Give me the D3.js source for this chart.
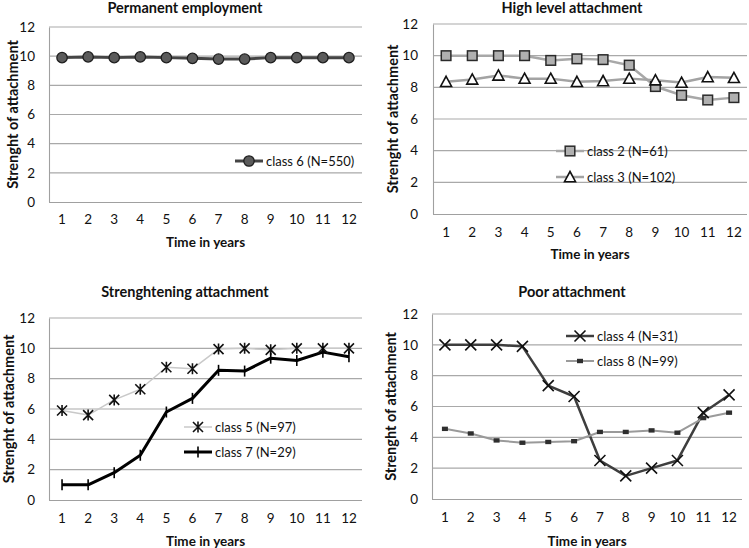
<!DOCTYPE html>
<html><head><meta charset="utf-8">
<script src="https://cdn.jsdelivr.net/npm/d3@7"></script>
<style>
body{margin:0;background:#fff;}
text{font-family:Lato,"Open Sans",sans-serif;fill:#111;}
</style></head>
<body>
<svg id="chart" width="749" height="548"></svg>
<script>
const years = [1,2,3,4,5,6,7,8,9,10,11,12];
const yTicks = [0,2,4,6,8,10,12];

const class6 = [9.9,9.95,9.9,9.95,9.9,9.85,9.8,9.8,9.9,9.9,9.9,9.9];
const class2 = [10,10,10,10,9.7,9.8,9.75,9.4,8.05,7.5,7.2,7.35];
const class3 = [8.35,8.5,8.75,8.55,8.55,8.35,8.4,8.55,8.45,8.3,8.65,8.6];
const class5 = [5.9,5.6,6.6,7.3,8.75,8.65,9.95,10,9.9,10,10,10];
const class7 = [1,1,1.8,2.95,5.8,6.7,8.55,8.5,9.35,9.2,9.75,9.45];
const class4 = [10,10,10,9.9,7.35,6.65,2.5,1.5,2,2.5,5.6,6.75];
const class8 = [4.55,4.25,3.8,3.65,3.7,3.75,4.35,4.35,4.45,4.3,5.25,5.6];

const titles = ["Permanent employment","High level attachment","Strenghtening attachment","Poor attachment"];
const labels = {c6:"class 6 (N=550)",c2:"class 2 (N=61)",c3:"class 3 (N=102)",c5:"class 5 (N=97)",c7:"class 7 (N=29)",c4:"class 4 (N=31)",c8:"class 8 (N=99)"};
const xTitle = "Time in years";
const yTitle = "Strenght of attachment";

const svg = d3.select("#chart");

// marker drawers
function drawMarker(g, type, x, y){
  if(type==="circle"){
    g.append("circle").attr("cx",x).attr("cy",y).attr("r",5.2).attr("fill","#5b5b5b").attr("stroke","#1e1e1e").attr("stroke-width",1.3);
  } else if(type==="square"){
    g.append("rect").attr("x",x-4.8).attr("y",y-4.8).attr("width",9.6).attr("height",9.6).attr("fill","#b0b0b0").attr("stroke","#2a2a2a").attr("stroke-width",1.5);
  } else if(type==="triangle"){
    const s=5.5;
    g.append("path").attr("d",`M${x},${y-s}L${x+s},${y+s*0.85}L${x-s},${y+s*0.85}Z`).attr("fill","#fff").attr("stroke","#111").attr("stroke-width",1.6);
  } else if(type==="asterisk"){
    const s=5;
    g.append("path").attr("d",`M${x-s},${y-s}L${x+s},${y+s}M${x-s},${y+s}L${x+s},${y-s}M${x},${y-s-0.5}L${x},${y+s+0.5}`).attr("stroke","#111").attr("stroke-width",1.6).attr("fill","none");
  } else if(type==="plus"){
    const s=5.5;
    g.append("path").attr("d",`M${x},${y-s}L${x},${y+s}`).attr("stroke","#000").attr("stroke-width",1.6).attr("fill","none");
  } else if(type==="x"){
    const s=5.5;
    g.append("path").attr("d",`M${x-s},${y-s}L${x+s},${y+s}M${x-s},${y+s}L${x+s},${y-s}`).attr("stroke","#111").attr("stroke-width",1.6).attr("fill","none");
  } else if(type==="smallsq"){
    g.append("rect").attr("x",x-3).attr("y",y-2.2).attr("width",6).attr("height",4.4).attr("fill","#2e2e2e");
  }
}

function panel(cfg){
  const g = svg.append("g");
  const x = d3.scaleBand().domain(years).range([cfg.x0,cfg.x1]);
  const y = d3.scaleLinear().domain([0,12]).range([cfg.yb,cfg.yt]);
  // gridlines
  g.append("g").selectAll("line").data(yTicks.filter(d=>d>0)).join("line")
    .attr("x1",cfg.x0).attr("x2",cfg.x1).attr("y1",d=>y(d)).attr("y2",d=>y(d))
    .attr("stroke","#a9a9a9").attr("stroke-width",1.1);
  // axes
  const ya = g.append("g").attr("transform",`translate(${cfg.x0},0)`)
    .call(d3.axisLeft(y).tickValues(yTicks).tickSize(0).tickPadding(cfg.ypad));
  ya.select(".domain").attr("stroke","#a0a0a0").attr("stroke-width",1.1);
  ya.selectAll("text").attr("font-size",13.5).style("font-family","Lato,'Open Sans',sans-serif").attr("fill","#111");
  const xa = g.append("g").attr("transform",`translate(0,${cfg.yb})`)
    .call(d3.axisBottom(x).tickSize(0).tickPadding(cfg.xpad));
  xa.select(".domain").attr("d",`M${cfg.x0},0.5H${cfg.x1}`).attr("stroke","#a0a0a0").attr("stroke-width",1.1);
  xa.selectAll("text").attr("font-size",13.5).style("font-family","Lato,'Open Sans',sans-serif").attr("fill","#111");
  // titles
  g.append("text").attr("x",cfg.tx).attr("y",cfg.ty).attr("text-anchor","middle")
    .attr("font-size",14.5).attr("font-weight","bold").text(cfg.title);
  g.append("text").attr("x",(cfg.x0+cfg.x1)/2).attr("y",cfg.xty).attr("text-anchor","middle")
    .attr("font-size",13.5).attr("font-weight","bold").text(xTitle);
  g.append("text").attr("transform",`translate(${cfg.ytx},${(cfg.yb+cfg.yt)/2}) rotate(-90)`)
    .attr("text-anchor","middle").attr("dominant-baseline","central")
    .attr("font-size",14.5).attr("font-weight","bold").text(yTitle);
  // series
  const line = d3.line().x((d,i)=>x(years[i])+x.bandwidth()/2).y(d=>y(d));
  cfg.series.forEach(s=>{
    g.append("path").datum(s.values).attr("d",line).attr("fill","none")
      .attr("stroke",s.color).attr("stroke-width",s.width).attr("stroke-linejoin","round");
  });
  cfg.series.forEach(s=>{
    s.values.forEach((v,i)=>drawMarker(g,s.marker,x(years[i])+x.bandwidth()/2,y(v)));
  });
  // legend
  cfg.series.forEach((s,k)=>{
    const ly = cfg.ly + k*cfg.lstep;
    g.append("line").attr("x1",cfg.lx).attr("x2",cfg.lx+28).attr("y1",ly).attr("y2",ly)
      .attr("stroke",s.color).attr("stroke-width",s.width);
    drawMarker(g,s.marker,cfg.lx+14,ly);
    g.append("text").attr("x",cfg.lx+31).attr("y",ly).attr("dominant-baseline","central")
      .attr("font-size",13).text(s.label);
  });
}

panel({x0:49,x1:362,yb:202,yt:27,ypad:14,xpad:12,title:titles[0],tx:185,ty:13,xty:247,ytx:12,
  lx:235,ly:161,lstep:0,
  series:[{values:class6,color:"#454545",width:3,marker:"circle",label:labels.c6}]});

panel({x0:433,x1:747,yb:214,yt:24,ypad:15,xpad:13,title:titles[1],tx:572,ty:13,xty:259,ytx:392,
  lx:556,ly:151,lstep:26,
  series:[{values:class2,color:"#a8a8a8",width:2.5,marker:"square",label:labels.c2},
          {values:class3,color:"#a3a3a3",width:2.5,marker:"triangle",label:labels.c3}]});

panel({x0:49,x1:362,yb:500,yt:318,ypad:14,xpad:13,title:titles[2],tx:185,ty:297,xty:546,ytx:8,
  lx:184,ly:427,lstep:25,
  series:[{values:class5,color:"#c9c9c9",width:1.5,marker:"asterisk",label:labels.c5},
          {values:class7,color:"#000",width:3,marker:"plus",label:labels.c7}]});

panel({x0:432,x1:742,yb:499,yt:314,ypad:14,xpad:13,title:titles[3],tx:572,ty:297,xty:546,ytx:390,
  lx:566,ly:336,lstep:25,
  series:[{values:class4,color:"#3e3e3e",width:2.5,marker:"x",label:labels.c4},
          {values:class8,color:"#9a9a9a",width:2,marker:"smallsq",label:labels.c8}]});
</script>
</body></html>
